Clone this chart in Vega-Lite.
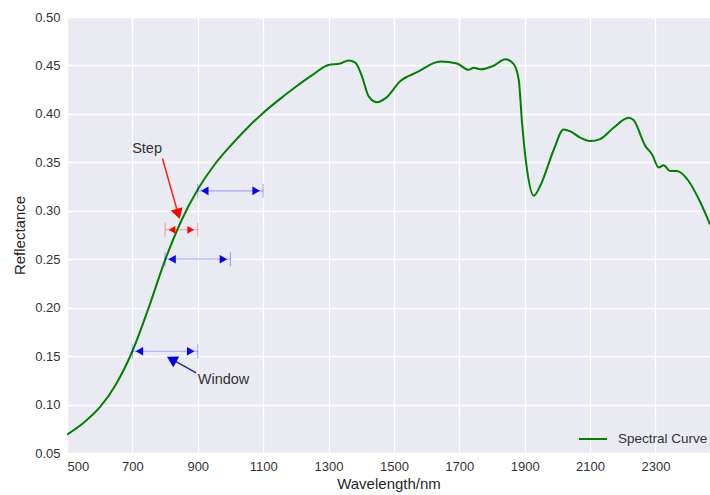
{
  "$schema": "https://vega.github.io/schema/vega-lite/v6.json",
  "width": 643,
  "height": 436,
  "autosize": {"type": "none"},
  "padding": {"left": 67, "top": 17, "right": 0, "bottom": 42},
  "background": "white",
  "config": {
    "view": {"fill": "#EAEAF2", "stroke": null},
    "font": "Liberation Sans",
    "axis": {
      "grid": true, "gridColor": "white", "gridWidth": 1.3,
      "domain": false, "ticks": false,
      "labelFont": "Liberation Sans", "labelFontSize": 13, "labelColor": "#333333",
      "titleFont": "Liberation Sans", "titleFontSize": 15, "titleFontWeight": "normal", "titleColor": "#262626"
    },
    "legend": {"labelFont": "Liberation Sans"}
  },
  "layer": [
    {
      "data": {"values": [
        {"wavelength": 500, "reflectance": 0.069},
        {"wavelength": 550, "reflectance": 0.081},
        {"wavelength": 600, "reflectance": 0.097},
        {"wavelength": 650, "reflectance": 0.121},
        {"wavelength": 700, "reflectance": 0.155},
        {"wavelength": 750, "reflectance": 0.200},
        {"wavelength": 800, "reflectance": 0.249},
        {"wavelength": 850, "reflectance": 0.290},
        {"wavelength": 900, "reflectance": 0.322},
        {"wavelength": 950, "reflectance": 0.347},
        {"wavelength": 1000, "reflectance": 0.367},
        {"wavelength": 1050, "reflectance": 0.385},
        {"wavelength": 1100, "reflectance": 0.401},
        {"wavelength": 1150, "reflectance": 0.415},
        {"wavelength": 1200, "reflectance": 0.428},
        {"wavelength": 1250, "reflectance": 0.440},
        {"wavelength": 1300, "reflectance": 0.4505},
        {"wavelength": 1336, "reflectance": 0.452},
        {"wavelength": 1361, "reflectance": 0.455},
        {"wavelength": 1382, "reflectance": 0.453},
        {"wavelength": 1402, "reflectance": 0.439},
        {"wavelength": 1423, "reflectance": 0.418},
        {"wavelength": 1448, "reflectance": 0.412},
        {"wavelength": 1474, "reflectance": 0.416},
        {"wavelength": 1520, "reflectance": 0.434},
        {"wavelength": 1571, "reflectance": 0.443},
        {"wavelength": 1642, "reflectance": 0.454},
        {"wavelength": 1693, "reflectance": 0.452},
        {"wavelength": 1728, "reflectance": 0.4455},
        {"wavelength": 1744, "reflectance": 0.4476},
        {"wavelength": 1764, "reflectance": 0.446},
        {"wavelength": 1805, "reflectance": 0.4497},
        {"wavelength": 1841, "reflectance": 0.4565},
        {"wavelength": 1866, "reflectance": 0.4517},
        {"wavelength": 1882, "reflectance": 0.435},
        {"wavelength": 1892, "reflectance": 0.391},
        {"wavelength": 1907, "reflectance": 0.343},
        {"wavelength": 1928, "reflectance": 0.3156},
        {"wavelength": 1948, "reflectance": 0.326},
        {"wavelength": 1989, "reflectance": 0.363},
        {"wavelength": 2019, "reflectance": 0.384},
        {"wavelength": 2040, "reflectance": 0.382},
        {"wavelength": 2070, "reflectance": 0.3755},
        {"wavelength": 2101, "reflectance": 0.372},
        {"wavelength": 2131, "reflectance": 0.374},
        {"wavelength": 2172, "reflectance": 0.3857},
        {"wavelength": 2218, "reflectance": 0.396},
        {"wavelength": 2233, "reflectance": 0.3936},
        {"wavelength": 2269, "reflectance": 0.367},
        {"wavelength": 2290, "reflectance": 0.358},
        {"wavelength": 2310, "reflectance": 0.3447},
        {"wavelength": 2325, "reflectance": 0.347},
        {"wavelength": 2345, "reflectance": 0.341},
        {"wavelength": 2366, "reflectance": 0.341},
        {"wavelength": 2401, "reflectance": 0.331},
        {"wavelength": 2437, "reflectance": 0.309},
        {"wavelength": 2467, "reflectance": 0.286}
      ]},
      "mark": {"type": "line", "interpolate": "monotone", "strokeWidth": 2, "clip": true},
      "encoding": {
        "x": {
          "field": "wavelength", "type": "quantitative", "title": "Wavelength/nm",
          "scale": {"domain": [500, 2467], "nice": false, "zero": false},
          "axis": {"values": [500, 700, 900, 1100, 1300, 1500, 1700, 1900, 2100, 2300], "format": "d", "labelPadding": 7, "titlePadding": 3}
        },
        "y": {
          "field": "reflectance", "type": "quantitative", "title": "Reflectance",
          "scale": {"domain": [0.05, 0.5], "nice": false, "zero": false},
          "axis": {"values": [0.05, 0.1, 0.15, 0.2, 0.25, 0.3, 0.35, 0.4, 0.45, 0.5], "format": ".2f", "labelPadding": 7, "titlePadding": 7}
        },
        "color": {
          "datum": "Spectral Curve",
          "scale": {"range": ["#008000"]},
          "legend": {
            "title": null, "orient": "none", "legendX": 511, "legendY": 407,
            "symbolType": "stroke", "symbolStrokeWidth": 2, "symbolSize": 784,
            "labelFontSize": 13.5, "labelColor": "#333333", "labelOffset": 10, "padding": 0
          }
        }
      }
    },
    {
      "data": {"values": [
        {"from": 900, "to": 1100, "r": 0.3206},
        {"from": 800, "to": 1000, "r": 0.25},
        {"from": 700, "to": 900, "r": 0.155}
      ]},
      "mark": {"type": "rule", "color": "#0000ff", "opacity": 0.3, "strokeWidth": 1.2},
      "encoding": {
        "x": {"field": "from", "type": "quantitative"},
        "x2": {"field": "to"},
        "y": {"field": "r", "type": "quantitative"}
      }
    },
    {
      "data": {"values": [
        {"from": 800, "to": 900, "r": 0.2804}
      ]},
      "mark": {"type": "rule", "color": "#ff0000", "opacity": 0.3, "strokeWidth": 1.2},
      "encoding": {
        "x": {"field": "from", "type": "quantitative"},
        "x2": {"field": "to"},
        "y": {"field": "r", "type": "quantitative"}
      }
    },
    {
      "data": {"values": [
        {"at": 900, "r": 0.3206}, {"at": 1100, "r": 0.3206},
        {"at": 800, "r": 0.25}, {"at": 1000, "r": 0.25},
        {"at": 700, "r": 0.155}, {"at": 900, "r": 0.155}
      ]},
      "mark": {"type": "tick", "orient": "vertical", "color": "#0000ff", "opacity": 0.3, "size": 14, "thickness": 1.2},
      "encoding": {
        "x": {"field": "at", "type": "quantitative"},
        "y": {"field": "r", "type": "quantitative"}
      }
    },
    {
      "data": {"values": [
        {"at": 800, "r": 0.2804}, {"at": 900, "r": 0.2804}
      ]},
      "mark": {"type": "tick", "orient": "vertical", "color": "#ff0000", "opacity": 0.3, "size": 14, "thickness": 1.2},
      "encoding": {
        "x": {"field": "at", "type": "quantitative"},
        "y": {"field": "r", "type": "quantitative"}
      }
    },
    {
      "data": {"values": [
        {"at": 900, "r": 0.3206}, {"at": 800, "r": 0.25}, {"at": 700, "r": 0.155}
      ]},
      "mark": {"type": "point", "shape": "triangle-left", "filled": true, "color": "#0000ff", "opacity": 1, "size": 75, "xOffset": 7},
      "encoding": {
        "x": {"field": "at", "type": "quantitative"},
        "y": {"field": "r", "type": "quantitative"}
      }
    },
    {
      "data": {"values": [
        {"at": 1100, "r": 0.3206}, {"at": 1000, "r": 0.25}, {"at": 900, "r": 0.155}
      ]},
      "mark": {"type": "point", "shape": "triangle-right", "filled": true, "color": "#0000ff", "opacity": 1, "size": 75, "xOffset": -7},
      "encoding": {
        "x": {"field": "at", "type": "quantitative"},
        "y": {"field": "r", "type": "quantitative"}
      }
    },
    {
      "data": {"values": [{"at": 800, "r": 0.2804}]},
      "mark": {"type": "point", "shape": "triangle-left", "filled": true, "color": "#ff0000", "opacity": 1, "size": 60, "xOffset": 7},
      "encoding": {
        "x": {"field": "at", "type": "quantitative"},
        "y": {"field": "r", "type": "quantitative"}
      }
    },
    {
      "data": {"values": [{"at": 900, "r": 0.2804}]},
      "mark": {"type": "point", "shape": "triangle-right", "filled": true, "color": "#ff0000", "opacity": 1, "size": 60, "xOffset": -7},
      "encoding": {
        "x": {"field": "at", "type": "quantitative"},
        "y": {"field": "r", "type": "quantitative"}
      }
    },
    {
      "data": {"values": [{"x": 792, "y": 0.354, "x2": 840, "y2": 0.2967}]},
      "mark": {"type": "rule", "color": "#ff2020", "strokeWidth": 1.5},
      "encoding": {
        "x": {"field": "x", "type": "quantitative"},
        "y": {"field": "y", "type": "quantitative"},
        "x2": {"field": "x2"},
        "y2": {"field": "y2"}
      }
    },
    {
      "data": {"values": [{"x": 840, "y": 0.2967}]},
      "mark": {"type": "point", "shape": "triangle-up", "filled": true, "color": "#ff0000", "opacity": 1, "size": 150, "angle": 164},
      "encoding": {
        "x": {"field": "x", "type": "quantitative"},
        "y": {"field": "y", "type": "quantitative"}
      }
    },
    {
      "data": {"values": [{"x": 895, "y": 0.1327, "x2": 820, "y2": 0.1468}]},
      "mark": {"type": "rule", "color": "#2a2a8a", "strokeWidth": 1.5},
      "encoding": {
        "x": {"field": "x", "type": "quantitative"},
        "y": {"field": "y", "type": "quantitative"},
        "x2": {"field": "x2"},
        "y2": {"field": "y2"}
      }
    },
    {
      "data": {"values": [{"x": 820, "y": 0.1468}]},
      "mark": {"type": "point", "shape": "triangle-up", "filled": true, "color": "#0000e0", "opacity": 1, "size": 150, "angle": 299},
      "encoding": {
        "x": {"field": "x", "type": "quantitative"},
        "y": {"field": "y", "type": "quantitative"}
      }
    },
    {
      "data": {"values": [
        {"label": "Step", "x": 745, "y": 0.364}
      ]},
      "mark": {"type": "text", "fontSize": 14.5, "color": "#333333", "align": "center", "baseline": "middle"},
      "encoding": {
        "x": {"field": "x", "type": "quantitative"},
        "y": {"field": "y", "type": "quantitative"},
        "text": {"field": "label"}
      }
    },
    {
      "data": {"values": [
        {"label": "Window", "x": 900, "y": 0.125}
      ]},
      "mark": {"type": "text", "fontSize": 14.5, "color": "#333333", "align": "left", "baseline": "middle"},
      "encoding": {
        "x": {"field": "x", "type": "quantitative"},
        "y": {"field": "y", "type": "quantitative"},
        "text": {"field": "label"}
      }
    }
  ]
}
